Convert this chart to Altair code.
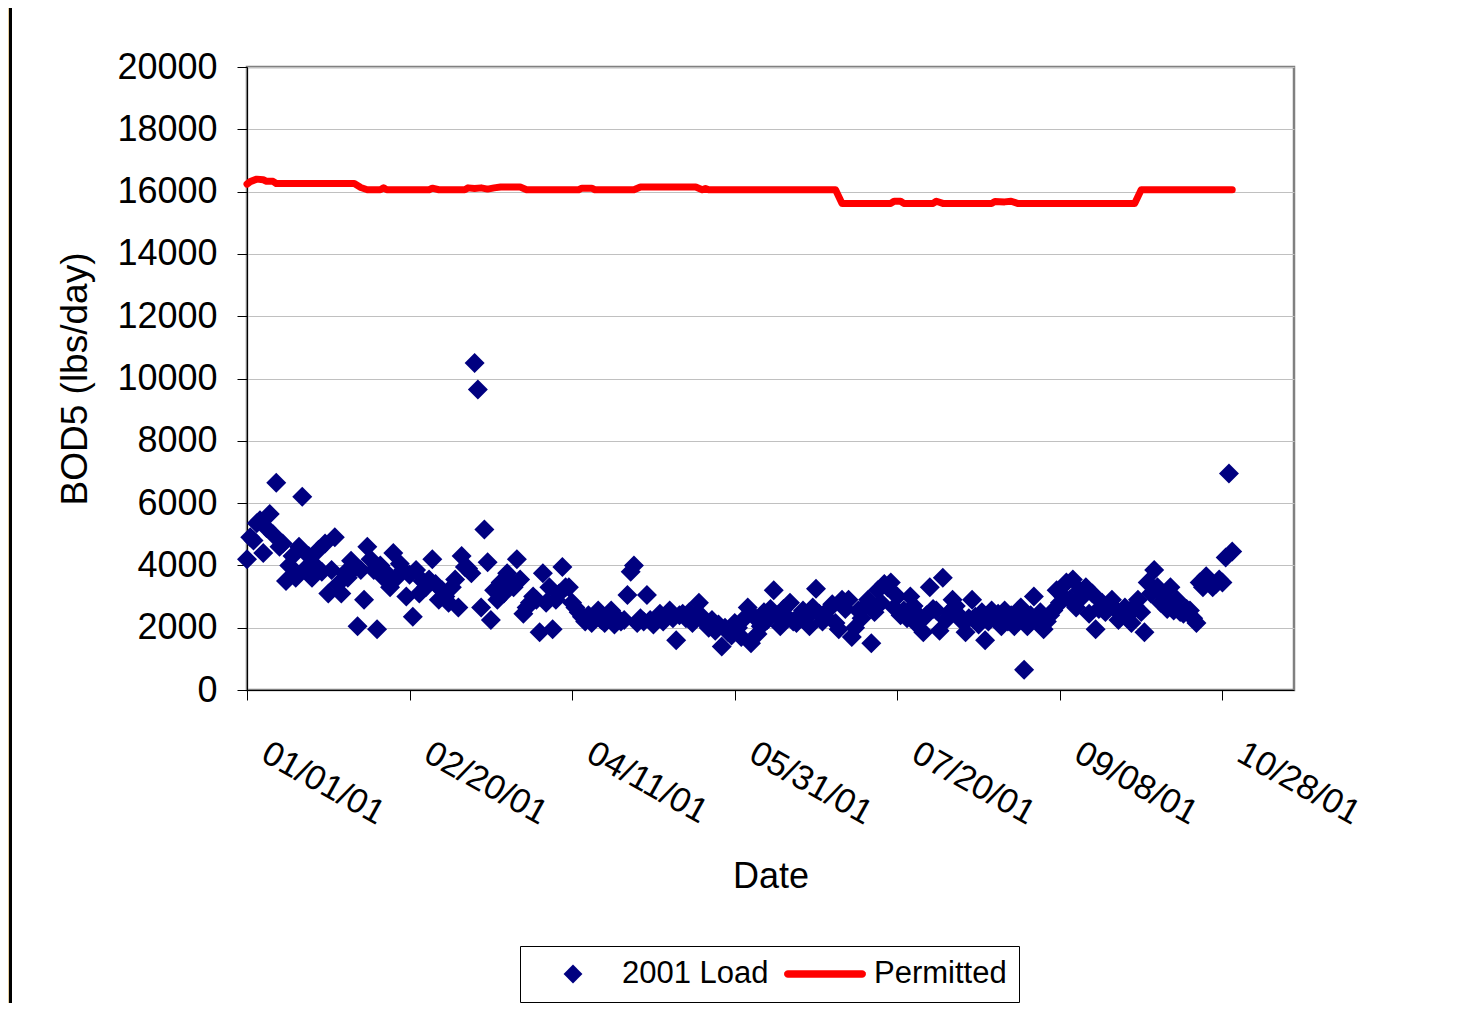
import altair as alt
import pandas as pd

# ---------------- data ----------------
start_date = "2001-01-01"

# daily 2001 BOD5 load (lbs/day), 01/01/01 .. 10/31/01
load_values = [
    4200, 4900, 4800, 5350, 5450, 4400, 5200, 5650, 5000, 6650,
    4600, 4700, 3500, 4000, 4300, 3600, 4600, 6200, 3900, 4300,
    3600, 4000, 4500, 3800, 4700, 3100, 3850, 4900, 3400, 3100,
    3750, 3600, 4150, 3900, 2050, 3850, 2900, 4600, 4200, 3850,
    1950, 4000, 3600, 3750, 3300, 4400, 3600, 4050, 3850, 3000,
    3700, 2350, 3850, 3100, 3500, 3300, 3550, 4200, 3400, 2900,
    3200, 3000, 2800, 3300, 3550, 2650, 4300, 3950, 3900, 3750,
    10500, 9650, 2650, 5150, 4100, 2250, 3200, 2900, 3450, 3100,
    3750, 3500, 3300, 4200, 3550, 2450, 2650, 2800, 3000, 2900,
    1850, 3750, 2800, 3300, 1950, 2900, 3100, 3950, 3300, 3300,
    2800, 2650, 2500, 2350, 2200, 2400, 2150, 2300, 2550, 2250,
    2150, 2400, 2550, 2100, 2300, 2200, 2250, 3050, 3800, 4000,
    2150, 2300, 2200, 3050, 2250, 2100, 2300, 2450, 2200, 2350,
    2550, 2300, 1600, 2400, 2450, 2300, 2500, 2150, 2400, 2800,
    2350, 2150, 2000, 2250, 1900, 2100, 1400, 2000, 1850, 1750,
    2150, 2000, 1700, 2300, 2650, 1500, 2350, 1800, 2050, 2500,
    2250, 2600, 3200, 2400, 2050, 2600, 2350, 2800, 2200, 2150,
    2400, 2550, 2300, 2050, 2650, 3250, 2450, 2200, 2350, 2600,
    2750, 2150, 1950, 2900, 2600, 2900, 1700, 2000, 2550, 2300,
    2700, 2900, 1500, 2500, 3200, 2800, 3400, 3300, 3450, 2650,
    3000, 2400, 2550, 2300, 3000, 2700, 2100, 2350, 1850, 2400,
    3300, 2600, 2550, 1900, 3600, 2250, 2500, 2900, 2700, 2400,
    2200, 1850, 2300, 2900, 2350, 2100, 2500, 1600, 2200, 2550,
    2300, 2450, 2050, 2550, 2200, 2400, 2050, 2300, 2650, 650,
    2050, 2400, 3000, 2250, 2500, 1950, 2200, 2400, 2550, 3200,
    2800, 3000, 3450, 2900, 3550, 2650, 3200, 3000, 3300, 2450,
    3100, 1950, 2600, 2800, 2500, 2700, 2900, 2600, 2250, 2500,
    2650, 2400, 2150, 2700, 2900, 2500, 1850, 3450, 3100, 3850,
    3300, 2800, 3000, 2600, 3300, 2550, 2900, 2500, 2450, 2600,
    2550, 2300, 2150, 3450, 3300, 3650, 3500, 3300, 3400, 3550,
    3450, 4250, 6950, 4450,
]

# permitted load: breakpoints (day offset from 01/01/01, lbs/day)
permitted_days = [0, 1, 3, 5, 6, 8, 9, 33, 35, 37, 41, 42, 43, 56, 57, 59, 67, 68, 70,
                  72, 74, 76, 78, 84, 86, 102, 103, 106, 107, 119, 121, 138, 140, 141,
                  142, 181, 183, 198, 199, 201, 202, 211, 212, 214, 229, 230, 233, 235,
                  237, 273, 275, 303]
permitted_values = [16240, 16320, 16400, 16380, 16330, 16330, 16260, 16260, 16130, 16060,
                    16060, 16120, 16060, 16060, 16110, 16060, 16060, 16120, 16100, 16120,
                    16080, 16120, 16150, 16150, 16060, 16060, 16110, 16110, 16060, 16060,
                    16150, 16150, 16060, 16100, 16060, 16060, 15620, 15620, 15690, 15690,
                    15620, 15620, 15690, 15620, 15620, 15680, 15670, 15690, 15620, 15620,
                    16060, 16060]

tick_days = [0, 50, 100, 150, 200, 250, 300]
tick_labels = ["01/01/01", "02/20/01", "04/11/01", "05/31/01", "07/20/01", "09/08/01", "10/28/01"]
y_ticks = [0, 2000, 4000, 6000, 8000, 10000, 12000, 14000, 16000, 18000, 20000]
series_names = ["2001 Load", "Permitted"]
series_colors = ["#000080", "#FF0000"]

# custom symbol paths: small diamond, and a thick bar with rounded-ish ends
diamond_path = "M-0.23,0L0,-0.23L0.23,0L0,0.23Z"
bar_path = ("M-0.91,-0.09L0.91,-0.09L0.955,-0.078L0.988,-0.045L1,0L0.988,0.045L0.955,0.078"
            "L0.91,0.09L-0.91,0.09L-0.955,0.078L-0.988,0.045L-1,0L-0.988,-0.045L-0.955,-0.078Z")

dates = pd.date_range(start_date, periods=len(load_values), freq="D")
load_df = pd.DataFrame({
    "date": dates.strftime("%Y-%m-%d"),
    "day": (dates - dates[0]).days,
    "value": load_values,
    "series": series_names[0],
})
perm_df = pd.DataFrame({"day": permitted_days, "value": permitted_values})

FONT = "Liberation Sans"

labels_js = "[" + ",".join(f"'{t}'" for t in tick_labels) + "]"
days_js = "[" + ",".join(str(d) for d in tick_days) + "]"

x_scale = alt.Scale(domain=[0, 322], nice=False, zero=False)
y_scale = alt.Scale(domain=[0, 20000], nice=False)

x_axis = alt.Axis(
    values=tick_days, labelExpr=f"{labels_js}[indexof({days_js}, datum.value)]",
    grid=False, labelAngle=29, labelAlign="left", labelBaseline="top",
    labelFlush=False, labelOverlap=False, labelFontSize=34.5, labelFont=FONT,
    labelColor="black", labelPadding=36, labelOffset=25,
    tickSize=10, tickColor="black", domainColor="black", domainWidth=1,
    title="Date", titleFontSize=36, titleFont=FONT, titleFontWeight="normal",
    titleColor="black", titleY=197, titleBaseline="alphabetic",
)
y_axis = alt.Axis(
    values=y_ticks, format="d", grid=True, gridColor="#C0C0C0", gridWidth=1,
    labelFontSize=36, labelFont=FONT, labelColor="black", labelPadding=20,
    tickSize=10, tickColor="black", domainColor="black", domainWidth=1,
    title="BOD5 (lbs/day)", titleFontSize=37, titleFont=FONT, titleFontWeight="normal",
    titleColor="black", titleX=-172, titleY=311.5, titleAngle=270,
    titleAlign="center", titleBaseline="middle",
)

legend = alt.Legend(
    title=None, orient="none", legendX=273, legendY=879, direction="horizontal",
    symbolSize=6724, symbolStrokeWidth=0, symbolOpacity=1, clipHeight=32,
    labelFontSize=31, labelFont=FONT, labelColor="black", labelOffset=8,
    columnPadding=15, padding=12, strokeColor="black", fillColor="white",
)

points = alt.Chart(load_df).mark_point(filled=True, size=7560, opacity=1, strokeWidth=0).encode(
    x=alt.X("day:Q", scale=x_scale, axis=x_axis),
    y=alt.Y("value:Q", scale=y_scale, axis=y_axis),
    color=alt.Color("series:N", scale=alt.Scale(domain=series_names, range=series_colors), legend=legend),
    shape=alt.Shape("series:N", scale=alt.Scale(domain=series_names, range=[diamond_path, bar_path]), legend=legend),
)

line = alt.Chart(perm_df).mark_line(color="#FF0000", strokeWidth=7, strokeCap="round", strokeJoin="round").encode(
    x=alt.X("day:Q", scale=x_scale, axis=x_axis),
    y=alt.Y("value:Q", scale=y_scale, axis=y_axis),
)

decor_df = pd.DataFrame({"k": [0]})
strip = alt.Chart(decor_df).mark_rect(color="#E6CF9F").encode(
    x=alt.value(-239), x2=alt.value(-238), y=alt.value(-60), y2=alt.value(940))
frame = alt.Chart(decor_df).mark_rule(color="black", strokeWidth=3).encode(
    x=alt.value(-236.5), y=alt.value(-60), y2=alt.value(940))

chart = alt.layer(strip, frame, line, points).properties(
    width=1047, height=623,
    autosize=alt.AutoSizeParams(type="none"),
    padding={"left": 239, "top": 59, "right": 150, "bottom": 313},
).configure(background="white", font=FONT).configure_view(stroke="#808080", strokeWidth=2.5)

chart.save("out.html", embed_options={"renderer": "svg", "actions": False})
